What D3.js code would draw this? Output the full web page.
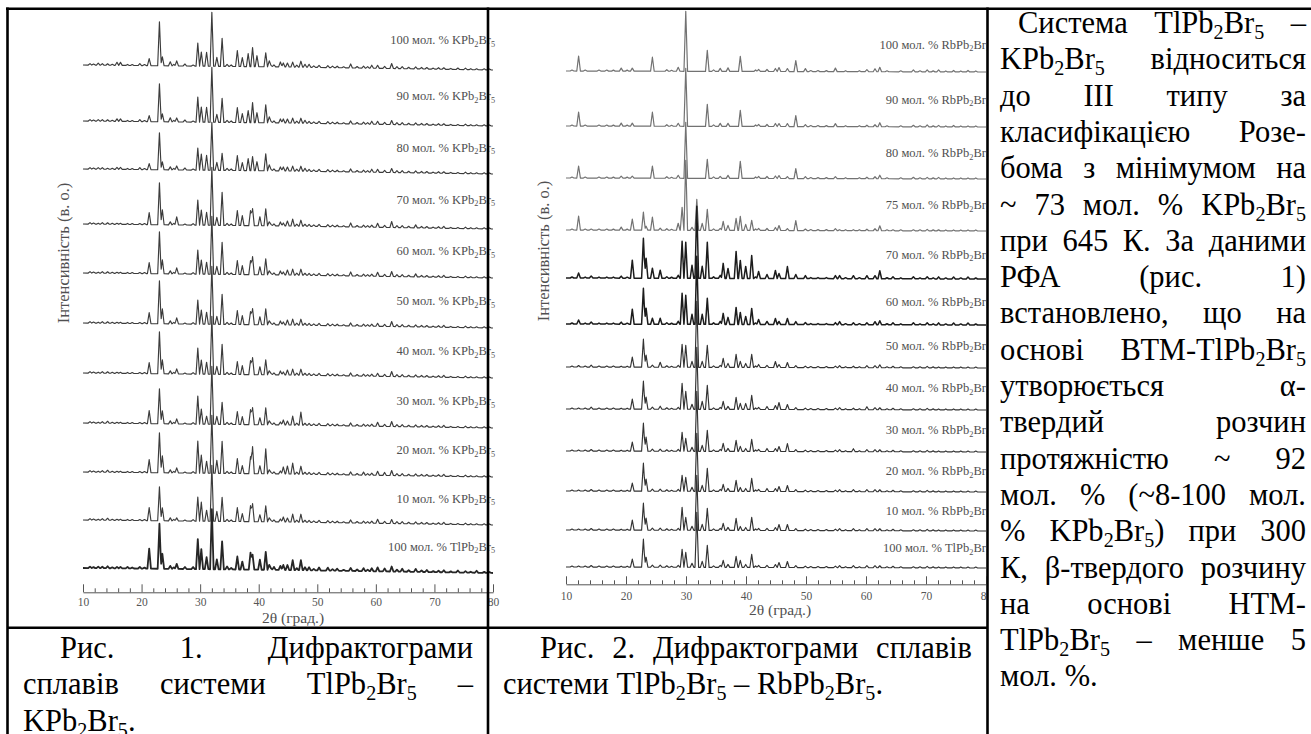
<!DOCTYPE html>
<html>
<head>
<meta charset="utf-8">
<script src="https://cdn.jsdelivr.net/npm/d3@7"></script>
<style>
  html, body { margin: 0; padding: 0; background: #fff; }
  svg { display: block; }
  text { font-family: "Liberation Serif", "Times New Roman", serif; }
</style>
</head>
<body>
<svg id="page" width="1311" height="734"></svg>
<script>
// ---------------- data ----------------
const angleDomain = [10, 80];
const majorTicks = [10, 20, 30, 40, 50, 60, 70, 80];
const minorTicks = [12, 14, 16, 18, 22, 24, 26, 28, 32, 34, 36, 38, 42, 44, 46, 48, 52, 54, 56, 58, 62, 64, 66, 68, 72, 74, 76, 78];

// System TlPb2Br5 – KPb2Br5 (top to bottom)
const kContent = ["100", "90", "80", "70", "60", "50", "40", "30", "20", "10", "100"];
const kPhase = ["KPb2Br5", "KPb2Br5", "KPb2Br5", "KPb2Br5", "KPb2Br5", "KPb2Br5", "KPb2Br5", "KPb2Br5", "KPb2Br5", "KPb2Br5", "TlPb2Br5"];
const kOffset = [503, 447, 399, 344, 295, 245, 195, 145, 96, 48, 0];
const kBackground = [[10, 5], [45, 3], [80, 0]];
const kReflections = [12.6, 14.2, 15.8, 16.4, 17.6, 19.7, 21.3, 23.05, 23.55, 24.9, 26.0, 27.4, 28.8, 29.6, 30.2, 31.1, 32.0, 32.85, 33.75, 34.6,
  36.35, 37.2, 38.2, 38.6, 38.95, 39.7, 40.2, 41.2, 41.8, 42.6, 43.7, 44.2, 44.9, 45.8, 47.2, 47.9, 48.6, 50.3, 51.8, 53.4,
  55.7, 57.9, 59.3, 60.3, 61.5, 62.7, 64.5, 66.8, 68.7, 71.6, 74.0, 77.2];
const kIntensity = [
  [2, 1.5, 3, 3, 1, 2, 7, 44, 9, 4, 5, 2, 1, 23, 14, 14, 54, 9, 28, 2, 16, 9, 13, 0, 19, 11, 0, 14, 6, 2, 5, 4, 4, 5, 6, 3, 3, 2, 2, 1.5, 4, 2, 3, 3, 2, 5, 2, 2, 1.5, 1.5, 1.5, 1],
  [1.5, 1.5, 2.5, 2.5, 1, 2, 6, 38, 8, 4, 4, 2, 1, 25, 15, 15, 55, 8, 24, 2, 15, 9, 12, 0, 20, 10, 0, 18, 6, 2, 4, 4, 4, 5, 5, 3, 2, 2, 2, 1.5, 3, 2, 3, 3, 2, 4, 2, 2, 1.5, 1.5, 1, 1],
  [1.5, 1, 2, 2, 1, 2, 6, 37, 8, 3, 4, 2, 1, 22, 16, 15, 48, 8, 17, 2, 15, 8, 12, 0, 14, 9, 0, 17, 6, 2, 4, 4, 4, 5, 5, 3, 2, 2, 2, 1.5, 3, 2, 3, 3, 2, 4, 2, 2, 1.5, 1.5, 1, 1],
  [1, 1.5, 1, 1, 1, 1, 12, 42, 15, 3, 8, 1, 1.5, 25, 15, 13, 58, 8, 33, 2, 15, 10, 0, 15, 17, 0, 9, 17, 4, 2, 4, 3, 5, 7, 6, 2, 2, 2, 2, 1.5, 4, 2, 2, 4, 2, 6, 2, 3, 1.5, 2, 1, 1],
  [1, 1.5, 1, 1, 1, 1, 11, 42, 14, 3, 6, 1, 1.5, 24, 14, 12, 58, 8, 32, 2, 14, 9, 0, 14, 18, 0, 8, 16, 4, 2, 4, 3, 5, 6, 6, 2, 2, 2, 2, 1.5, 4, 2, 2, 4, 2, 5, 2, 3, 1.5, 2, 1, 1],
  [1, 1.5, 1, 1, 1, 1, 11, 43, 15, 3, 6, 1, 1.5, 24, 14, 12, 58, 8, 30, 2, 14, 9, 0, 13, 16, 0, 8, 16, 4, 2, 4, 3, 5, 6, 6, 2, 2, 2, 2, 1.5, 3, 2, 2, 3, 2, 5, 2, 2, 1.5, 2, 1, 1],
  [1, 1.5, 1, 1, 1, 1, 11, 42, 14, 3, 5, 1, 1.5, 26, 14, 12, 58, 8, 30, 2, 13, 9, 0, 14, 17, 0, 8, 15, 4, 2, 4, 3, 5, 6, 6, 2, 2, 2, 2, 1.5, 3, 2, 2, 3, 2, 5, 2, 2, 1.5, 2, 1, 1],
  [1, 2, 1, 1, 1, 1, 13, 35, 13, 3, 5, 1, 1.5, 28, 15, 8, 58, 8, 22, 2, 13, 8, 0, 15, 17, 0, 7, 17, 4, 2, 3, 5, 4, 9, 13, 2, 2, 2, 2, 1.5, 3, 2, 2, 4, 2, 5, 2, 2, 1.5, 2, 1, 1],
  [1, 2, 1, 1, 1, 1, 13, 40, 17, 3, 5, 1, 1.5, 32, 18, 12, 58, 13, 32, 2, 15, 8, 0, 17, 27, 0, 8, 25, 4, 2, 3, 7, 8, 11, 8, 2, 2, 2, 2, 1.5, 3, 3, 2, 4, 3, 5, 2, 2, 1.5, 2, 1, 1],
  [1, 2, 1, 1, 1, 1, 13, 34, 13, 3, 3, 1, 1.5, 24, 19, 11, 56, 10, 24, 2, 14, 8, 0, 16, 18, 0, 7, 16, 4, 2, 3, 5, 4, 8, 8, 2, 2, 2, 2, 1.5, 3, 2, 2, 4, 2, 4, 2, 2, 1.5, 2, 1, 1],
  [1.5, 2, 1.5, 1.5, 1.5, 1.5, 20, 45, 15, 3, 5, 2, 2, 30, 20, 12, 60, 10, 28, 3, 13, 8, 0, 17, 15, 0, 10, 18, 5, 3, 4, 5, 5, 10, 10, 3, 3, 3, 3, 2, 3, 3, 3, 4, 3, 5, 3, 3, 2, 2, 2, 2]
];
// weak bumps common to the whole KPb2Br5 series
const kWeakReflections = [11.2, 11.8, 13.3, 15.0, 18.4, 20.5, 25.5, 35.3, 42.1, 46.5, 49.4, 52.6, 54.5, 56.8, 58.6, 63.6, 65.6, 67.8, 69.8, 70.7, 72.8, 75.3, 76.2, 78.5, 79.4];
const kWeakIntensity = [1.5, 1, 1.5, 1, 1, 1, 1.5, 1.5, 1.5, 2, 1.5, 1.5, 1, 1.5, 1.5, 2, 1.5, 1.5, 1, 1.5, 1, 1.5, 1, 1, 1];

// System TlPb2Br5 – RbPb2Br5 (top to bottom)
const rbContent = ["100", "90", "80", "75", "70", "60", "50", "40", "30", "20", "10", "100"];
const rbPhase = ["RbPb2Br5", "RbPb2Br5", "RbPb2Br5", "RbPb2Br5", "RbPb2Br5", "RbPb2Br5", "RbPb2Br5", "RbPb2Br5", "RbPb2Br5", "RbPb2Br5", "RbPb2Br5", "TlPb2Br5"];
const rbOffset = [496, 441, 389, 337, 289, 243, 200, 158, 116, 76, 37, 0];
const rbBackground = [[10, 1], [80, 0]];
const rbReflections = [12.1, 14.2, 19.2, 21.05, 22.9, 23.35, 24.4, 25.7, 28.7, 29.35, 29.96, 31.0, 31.8, 32.7, 33.55, 35.7, 36.2, 37.0, 38.35, 39.05,
  39.95, 40.95, 42.1, 43.5, 44.9, 45.5, 46.9, 48.3, 49.9, 54.9, 55.6, 57.9, 60.15, 61.5, 62.3, 64.5, 67.9, 70.2, 72.1, 74.6, 77.0];
const rbIntensity = [
  [15, 0, 3, 3, 0, 0, 14, 0, 4, 0, 60, 0, 0, 0, 21, 3, 0, 3.5, 0, 15, 0, 0, 2, 2, 3, 4, 3, 11, 3, 3.5, 0, 0, 2, 3, 4.5, 0, 2, 2, 2, 1.5, 1.5],
  [14, 0, 3, 3, 0, 0, 14, 0, 3, 0, 58, 0, 0, 0, 22, 3, 0, 3, 0, 16, 0, 0, 2, 2, 3, 3, 3, 11, 2, 3, 0, 0, 1.5, 2, 4, 0, 1.5, 2, 1.5, 1.5, 1],
  [12, 0, 2, 2, 0, 0, 12, 0, 3, 0, 56, 0, 0, 0, 19, 2, 0, 3, 0, 17, 0, 0, 2, 2, 2.5, 3, 2, 10, 2, 2, 0, 0, 1.5, 2, 3.5, 0, 1.5, 1.5, 1.5, 1, 1],
  [14, 1, 3, 11, 18, 4, 13, 2, 7, 23, 70, 3, 31, 7, 21, 2, 9, 5, 12, 14, 6, 10, 2, 2, 3, 5, 2, 10, 1.5, 2, 1, 1, 1.5, 2, 5, 1, 1, 1.5, 1, 1, 1],
  [5, 2, 2, 18, 40, 20, 10, 8, 3, 37, 36, 13, 72, 12, 36, 3, 15, 10, 27, 18, 12, 23, 7, 4, 8, 5, 12, 4, 3, 3, 3, 3, 3, 3, 8, 2, 2, 2, 2, 2, 2],
  [4, 2, 2, 15, 36, 16, 6, 6, 3, 31, 29, 10, 68, 10, 26, 3, 11, 7, 17, 12, 8, 16, 5, 3, 6, 3, 6, 3, 2, 2, 3, 2, 2, 3, 4, 2, 2, 2, 2, 2, 2],
  [1.5, 2, 1, 10, 28, 12, 2, 5, 2, 23, 22, 6, 66, 6, 22, 2, 9, 4, 13, 6, 4, 13, 3, 2, 6, 3, 5, 2, 1.5, 1.5, 2, 1.5, 2, 2, 3, 1.5, 1, 1.5, 1, 1, 1],
  [1, 2, 1, 10, 28, 12, 2, 3, 2, 26, 18, 5, 62, 8, 24, 2, 8, 3, 12, 6, 6, 14, 2, 3, 4, 7, 5, 2, 1.5, 1.5, 2, 1.5, 3, 2, 2, 1.5, 1, 1.5, 1, 1, 1],
  [1, 1.5, 1, 9, 28, 14, 2, 2, 2, 19, 13, 4, 60, 6, 21, 2, 8, 3, 11, 5, 3, 12, 2, 3, 3, 5, 8, 2, 1.5, 1.5, 2, 3, 2, 2, 2, 1.5, 1, 1.5, 1, 1, 1],
  [1, 1.5, 1, 8, 28, 12, 2, 2, 2, 16, 14, 4, 58, 6, 23, 2, 7, 3, 11, 4, 3, 13, 2, 3, 3, 5, 6, 2, 1.5, 1.5, 2, 2, 2, 2, 2, 1.5, 1, 1.5, 1, 1, 1],
  [1, 1.5, 1, 10, 27, 12, 2, 2, 2, 23, 13, 4, 55, 6, 22, 2, 7, 3, 12, 4, 3, 13, 2, 2, 3, 6, 6, 2, 1.5, 1.5, 2, 2, 2, 2, 2, 1.5, 1, 1.5, 1, 1, 1],
  [1, 1.5, 1, 8, 28, 10, 2, 2, 2, 18, 15, 4, 55, 6, 22, 2, 7, 3, 11, 7, 3, 13, 2, 2, 3, 5, 6, 2, 1.5, 1.5, 2, 2, 2, 2, 2, 1.5, 1, 1.5, 1, 1, 1]
];
// weak bumps common to the whole RbPb2Br5 series
const rbWeakReflections = [11.0, 13.2, 15.5, 16.8, 17.9, 20.2, 26.8, 27.6, 34.6, 41.6, 50.8, 52.0, 53.4, 56.6, 58.9, 63.5, 65.8, 69.0, 71.2, 73.3, 75.8, 78.3];
const rbWeakIntensity = [1, 1, 1, 1, 1, 1, 1.5, 1, 1.5, 1.5, 1, 1, 1, 1, 1, 1, 1, 1, 1, 1, 1, 1];

// Document text
const caption1 = ["Рис. 1. Дифрактограми", "сплавів системи TlPb2Br5 –", "KPb2Br5."];
const caption2 = ["Рис. 2. Дифрактограми сплавів", "системи TlPb2Br5 – RbPb2Br5."];
const paragraph = [
  "Система TlPb2Br5 –", "KPb2Br5 відноситься", "до III типу за", "класифікацією Розе-",
  "бома з мінімумом на", "~ 73 мол. % KPb2Br5", "при 645 К. За даними", "РФА (рис. 1)",
  "встановлено, що на", "основі ВТМ-TlPb2Br5", "утворюється α-", "твердий розчин",
  "протяжністю ~ 92", "мол. % (~8-100 мол.", "% KPb2Br5) при 300", "К, β-твердого розчину",
  "на основі НТМ-", "TlPb2Br5 – менше 5", "мол. %."
];
const yTitle = "Інтенсивність (в. о.)";
const xTitle = "2θ (град.)";

// ---------------- drawing ----------------
const svg = d3.select("#page");
svg.append("rect").attr("width", 1311).attr("height", 734).attr("fill", "#fff");
const serif = "Liberation Serif, Times New Roman, serif";

// Writes a string into a <text>, turning digits that follow a Latin letter into subscripts
function richText(textSel, str, fs) {
  const parts = str.split(/(?<=[A-Za-z])(\d+)/);
  const shift = fs * 0.2;
  let lowered = false;
  parts.forEach((part, i) => {
    if (part === "") return;
    const sub = i % 2 === 1;
    const ts = textSel.append("tspan").text(part);
    if (sub) {
      ts.attr("font-size", fs * 0.66);
      if (!lowered) { ts.attr("dy", shift); lowered = true; }
    } else if (lowered) {
      ts.attr("dy", -shift); lowered = false;
    }
  });
  return textSel;
}

// Builds a diffraction profile from a list of reflections (triangular peaks on a background)
function profile(reflections, heights, halfWidth, bg) {
  const knots = new Set([angleDomain[0], angleDomain[1], ...bg.domain()]);
  reflections.forEach((p, i) => {
    if (heights[i] > 0) { knots.add(p - halfWidth); knots.add(p); knots.add(p + halfWidth); }
  });
  const xs = Array.from(knots).filter(x => x >= angleDomain[0] && x <= angleDomain[1]).sort((a, b) => a - b);
  return xs.map(x => {
    let v = bg(x);
    reflections.forEach((p, i) => {
      const t = 1 - Math.abs(x - p) / halfWidth;
      if (t > 0) v += heights[i] * t;
    });
    return [x, v];
  });
}

function drawPanel(o) {
  const g = svg.append("g");
  if (o.clip) {
    const id = "clip" + o.name;
    svg.append("clipPath").attr("id", id).append("rect")
      .attr("x", o.clip[0]).attr("y", o.clip[1]).attr("width", o.clip[2]).attr("height", o.clip[3]);
    g.attr("clip-path", `url(#${id})`);
  }
  const x = d3.scaleLinear(angleDomain, o.xRange);
  const y = d3.scaleLinear([0, 500], [o.yZero, o.yZero - 500]);
  const bg = d3.scaleLinear(o.background.map(d => d[0]), o.background.map(d => d[1]));
  const line = d3.line().x(d => x(d[0])).y(d => d[1]);
  const allReflections = o.reflections.concat(o.weakReflections);

  o.intensity.forEach((h, i) => {
    const pts = profile(allReflections, h.concat(o.weakIntensity), o.halfWidth, bg)
      .map(d => [d[0], y(o.offset[i] + d[1])]);
    g.append("path").attr("d", line(pts)).attr("fill", "none")
      .attr("stroke", o.stroke(i)).attr("stroke-width", o.strokeWidth(i))
      .attr("stroke-linejoin", "round");
  });

  // sample labels
  o.content.forEach((c, i) => {
    const base = y(o.offset[i]);
    const prev = i > 0 ? y(o.offset[i - 1]) : y(o.offset[0]) - (y(o.offset[1]) - y(o.offset[0]));
    const ly = base - o.labelLift * (base - prev);
    const t = g.append("text").attr("x", o.labelRight).attr("y", ly).attr("text-anchor", "end")
      .attr("font-family", serif).attr("font-size", 12.5).attr("fill", "#505050");
    richText(t, `${c} мол. % ${o.phase[i]}`, 12.5);
  });

  // axis with upward ticks
  const ax = g.append("g").attr("transform", `translate(0,${o.axisY})`)
    .call(d3.axisBottom(x).tickValues(majorTicks).tickSizeInner(-8).tickSizeOuter(0).tickPadding(o.tickPad).tickFormat(d3.format("d")));
  ax.select(".domain").attr("stroke", "#555");
  ax.selectAll(".tick line").attr("stroke", "#555");
  ax.selectAll(".tick text").attr("font-size", 11.5).attr("fill", "#555").attr("font-family", serif);
  const mx = g.append("g").attr("transform", `translate(0,${o.axisY})`)
    .call(d3.axisBottom(x).tickValues(minorTicks).tickSizeInner(-4).tickSizeOuter(0).tickFormat(""));
  mx.select(".domain").remove();
  mx.selectAll(".tick line").attr("stroke", "#555");

  g.append("text").attr("x", o.xTitlePos[0]).attr("y", o.xTitlePos[1]).attr("text-anchor", "middle")
    .attr("font-family", serif).attr("font-size", 15.5).attr("fill", "#505050").text(xTitle);
  g.append("text").attr("transform", `translate(${o.yTitlePos[0]},${o.yTitlePos[1]}) rotate(-90)`)
    .attr("text-anchor", "middle").attr("font-family", serif).attr("font-size", 16.5).attr("fill", "#505050").text(yTitle);
}

drawPanel({
  name: "K", xRange: [83, 493], yZero: 573, axisY: 592.3, tickPad: 6,
  reflections: kReflections, intensity: kIntensity, offset: kOffset, background: kBackground,
  weakReflections: kWeakReflections, weakIntensity: kWeakIntensity,
  content: kContent, phase: kPhase, halfWidth: 0.3, labelRight: 495, labelLift: 23 / 50,
  stroke: i => i === kContent.length - 1 ? "#262626" : "#3c3c3c",
  strokeWidth: i => i === kContent.length - 1 ? 1.8 : 1.15,
  xTitlePos: [293, 623], yTitlePos: [69, 253]
});

drawPanel({
  name: "Rb", xRange: [566, 986], yZero: 568, axisY: 584.3, tickPad: 7.5,
  reflections: rbReflections, intensity: rbIntensity, offset: rbOffset, background: rbBackground,
  weakReflections: rbWeakReflections, weakIntensity: rbWeakIntensity,
  content: rbContent, phase: rbPhase, halfWidth: 0.3, labelRight: 990, labelLift: 0.42,
  clip: [489, 10, 497.5, 616],
  stroke: i => i < 4 ? "#727272" : (i === 4 || i === 5 ? "#1c1c1c" : "#333"),
  strokeWidth: i => i < 4 ? 1.2 : (i === 4 || i === 5 ? 1.5 : 1.15),
  xTitlePos: [780, 615], yTitlePos: [549, 251]
});

// ---------------- document text ----------------
const bodySize = 30.5;
function textLine(str, left, right, baseline, justify) {
  const words = str.split(" ");
  const nodes = words.map(w => richText(svg.append("text").attr("y", baseline)
    .attr("font-family", serif).attr("font-size", bodySize).attr("fill", "#000"), w, bodySize));
  const widths = nodes.map(n => n.node().getComputedTextLength());
  let gap = justify && words.length > 1 ? (right - left - d3.sum(widths)) / (words.length - 1) : bodySize * 0.25;
  gap = Math.max(gap, bodySize * 0.18);
  let cx = left;
  nodes.forEach((n, i) => { n.attr("x", cx); cx += widths[i] + gap; });
}

const lineStep = 36.3;
caption1.forEach((s, i) => textLine(s, i === 0 ? 60 : 23, 473, 658 + i * lineStep, i < caption1.length - 1));
caption2.forEach((s, i) => textLine(s, i === 0 ? 540 : 503, 972, 658 + i * lineStep, i < caption2.length - 1));
paragraph.forEach((s, i) => textLine(s, i === 0 ? 1018 : 1000, 1306, 33 + i * lineStep, i < paragraph.length - 1));

// ---------------- table rules ----------------
const rules = svg.append("g").attr("stroke", "#000").attr("stroke-width", 2.6);
rules.append("line").attr("x1", 6).attr("x2", 1311).attr("y1", 8.7).attr("y2", 8.7);
rules.append("line").attr("x1", 7.5).attr("x2", 7.5).attr("y1", 7.4).attr("y2", 734);
rules.append("line").attr("x1", 488).attr("x2", 488).attr("y1", 7.4).attr("y2", 734);
rules.append("line").attr("x1", 987.5).attr("x2", 987.5).attr("y1", 7.4).attr("y2", 734);
rules.append("line").attr("x1", 7.5).attr("x2", 987.5).attr("y1", 627.7).attr("y2", 627.7);
</script>
</body>
</html>
